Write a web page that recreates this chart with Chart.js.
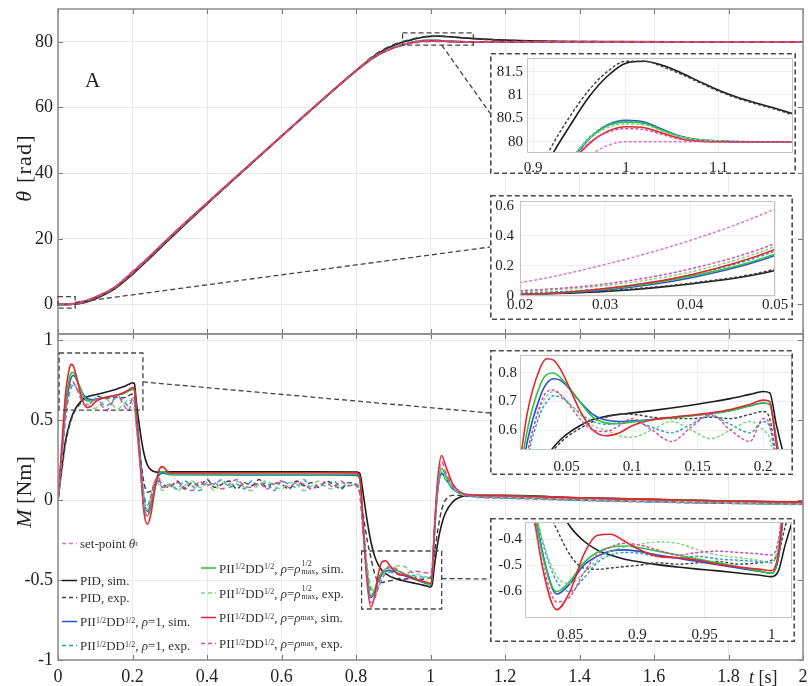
<!DOCTYPE html>
<html>
<head>
<meta charset="utf-8">
<script src="https://cdn.jsdelivr.net/npm/chart.js@4.4.1/dist/chart.umd.min.js"></script>
<style>
  body { margin: 0; background: #fff; }
  #wrap { position: relative; width: 808px; height: 686px; overflow: hidden;
          font-family: 'Liberation Serif', 'Times New Roman', serif; color: #222; }
  canvas { position: absolute; }
  .lab { position: absolute; white-space: nowrap; line-height: 1; }
  .lg { position: absolute; white-space: nowrap; font-size: 13px; color: #333; line-height: 1;
        transform: translateY(-50%); display: flex; align-items: center; }
  .lg svg { margin-right: 3px; flex: none; }
  .lg sup { font-size: 8px; position: relative; top: -1px; }
  .lg sub { font-size: 8px; }
  .ss { display: inline-flex; flex-direction: column; font-size: 8px; line-height: 8px; margin-left: 1px; }
</style>
</head>
<body>
<div id="wrap">
  <canvas id="cTheta" width="808" height="686" style="left:0;top:0"></canvas>
  <canvas id="cTorque" width="808" height="686" style="left:0;top:0"></canvas>
  <canvas id="cZoomThetaEnd" width="306" height="121" style="left:490px;top:53px"></canvas>
  <canvas id="cZoomThetaStart" width="303" height="125" style="left:490px;top:195px"></canvas>
  <canvas id="cZoomTorqueStart" width="303" height="125" style="left:490px;top:350px"></canvas>
  <canvas id="cZoomTorqueEnd" width="305" height="124" style="left:490px;top:518px"></canvas>

  <div class="lab" style="left:24px;top:168px;font-size:22px;letter-spacing:1.2px;transform:translate(-50%,-50%) rotate(-90deg);"><i>θ</i> [rad]</div>
  <div class="lab" style="left:24px;top:492px;font-size:22px;transform:translate(-50%,-50%) rotate(-90deg);"><i>M</i> [Nm]</div>
  <div class="lab" style="left:85px;top:70px;font-size:21px;">A</div>
  <div class="lab" style="left:749px;top:677px;font-size:18px;transform:translateY(-50%);"><i>t</i> [s]</div>

  <div class="lg" style="left:62px;top:543px"><svg width="15" height="4"><line x1="0" y1="2" x2="15" y2="2" stroke="#e070d0" stroke-width="1.5" stroke-dasharray="4 3"/></svg>set-point <i>&nbsp;θ</i><sub>r</sub></div>
  <div class="lg" style="left:62px;top:580px"><svg width="15" height="4"><line x1="0" y1="2" x2="15" y2="2" stroke="#1c1c1c" stroke-width="1.6"/></svg>PID, sim.</div>
  <div class="lg" style="left:62px;top:597px"><svg width="15" height="4"><line x1="0" y1="2" x2="15" y2="2" stroke="#404040" stroke-width="1.5" stroke-dasharray="4 3"/></svg>PID, exp.</div>
  <div class="lg" style="left:62px;top:621px"><svg width="15" height="4"><line x1="0" y1="2" x2="15" y2="2" stroke="#2b4fd6" stroke-width="1.6"/></svg>PII<sup>1/2</sup>DD<sup>1/2</sup>, <i>&nbsp;ρ</i>=1, sim.</div>
  <div class="lg" style="left:62px;top:645px"><svg width="15" height="4"><line x1="0" y1="2" x2="15" y2="2" stroke="#2d9cc8" stroke-width="1.5" stroke-dasharray="4 3"/></svg>PII<sup>1/2</sup>DD<sup>1/2</sup>, <i>&nbsp;ρ</i>=1, exp.</div>
  <div class="lg" style="left:201px;top:568px"><svg width="15" height="4"><line x1="0" y1="2" x2="15" y2="2" stroke="#2fc43f" stroke-width="1.6"/></svg>PII<sup>1/2</sup>DD<sup>1/2</sup>, <i>&nbsp;ρ</i>=<i>ρ</i><span class="ss"><span>1/2</span><span>max</span></span>, sim.</div>
  <div class="lg" style="left:201px;top:593px"><svg width="15" height="4"><line x1="0" y1="2" x2="15" y2="2" stroke="#7ad67a" stroke-width="1.5" stroke-dasharray="4 3"/></svg>PII<sup>1/2</sup>DD<sup>1/2</sup>, <i>&nbsp;ρ</i>=<i>ρ</i><span class="ss"><span>1/2</span><span>max</span></span>, exp.</div>
  <div class="lg" style="left:201px;top:617px"><svg width="15" height="4"><line x1="0" y1="2" x2="15" y2="2" stroke="#e2262e" stroke-width="1.6"/></svg>PII<sup>1/2</sup>DD<sup>1/2</sup>, <i>&nbsp;ρ</i>=<i>ρ</i><sub>max</sub>, sim.</div>
  <div class="lg" style="left:201px;top:643px"><svg width="15" height="4"><line x1="0" y1="2" x2="15" y2="2" stroke="#d64aa6" stroke-width="1.5" stroke-dasharray="4 3"/></svg>PII<sup>1/2</sup>DD<sup>1/2</sup>, <i>&nbsp;ρ</i>=<i>ρ</i><sub>max</sub>, exp.</div>
</div>

<script>
// ---- time bases ----
const tTheta = [0, 0.02, 0.03, 0.04, 0.05, 0.075, 0.1, 0.15, 0.2, 0.25, 0.3, 0.4, 0.5, 0.6, 0.7, 0.8, 0.85, 0.9,
  0.92, 0.94, 0.96, 0.98, 1.0, 1.02, 1.04, 1.06, 1.08, 1.1, 1.12, 1.14, 1.16, 1.18, 1.3, 1.5, 1.75, 2.0];

// ---- angle theta [rad] ----
const thetaSetpoint = [0, 0.09, 0.21, 0.37, 0.58, 1.3, 2.3, 5.2, 10.2, 15.2, 20.6, 30.9, 41.1, 51.3, 61.4, 71.2, 75.5, 78.3,
  79.0, 79.45, 79.7, 79.92, 80, 80, 80, 80, 80, 80, 80, 80, 80, 80, 80, 80, 80, 80];
const thetaPidSim = [0, 0.01, 0.03, 0.08, 0.17, 0.7, 1.7, 4.6, 9.2, 14.5, 20.0, 30.6, 40.9, 51.2, 61.3, 71.2, 75.8, 78.9,
  79.7, 80.35, 80.95, 81.4, 81.68, 81.72, 81.63, 81.47, 81.28, 81.1, 80.95, 80.83, 80.72, 80.6, 80.2, 80.04, 80.0, 80.0];
const thetaPidExp = [0, 0.015, 0.035, 0.085, 0.18, 0.72, 1.75, 4.7, 9.3, 14.6, 20.1, 30.7, 41.0, 51.3, 61.4, 71.3, 76.0, 79.1,
  79.9, 80.55, 81.1, 81.5, 81.72, 81.72, 81.6, 81.44, 81.26, 81.08, 80.93, 80.81, 80.7, 80.58, 80.2, 80.04, 80.0, 80.0];
const thetaRho1Sim = [0, 0.01, 0.04, 0.12, 0.27, 0.95, 2.1, 5.0, 9.7, 14.9, 20.4, 30.8, 41.0, 51.2, 61.3, 71.1, 75.4, 78.2,
  78.9, 79.55, 80.05, 80.36, 80.46, 80.42, 80.26, 80.11, 80.04, 80.01, 80, 80, 80, 80, 80, 80, 80, 80];
const thetaRho1Exp = [0, 0.02, 0.05, 0.14, 0.3, 1.0, 2.15, 5.05, 9.75, 15.0, 20.5, 30.9, 41.1, 51.3, 61.4, 71.2, 75.5, 78.3,
  79.0, 79.6, 80.08, 80.36, 80.44, 80.4, 80.24, 80.1, 80.04, 80.02, 80.01, 80, 80, 80, 80, 80, 80, 80];
const thetaHalfSim = [0, 0.01, 0.045, 0.13, 0.28, 0.97, 2.12, 5.02, 9.72, 14.95, 20.45, 30.85, 41.05, 51.25, 61.35, 71.15, 75.45, 78.25,
  78.95, 79.58, 80.06, 80.34, 80.42, 80.39, 80.24, 80.1, 80.04, 80.02, 80, 80, 80, 80, 80, 80, 80, 80];
const thetaHalfExp = [0, 0.03, 0.07, 0.16, 0.33, 1.02, 2.2, 5.1, 9.8, 15.05, 20.55, 30.95, 41.15, 51.35, 61.45, 71.25, 75.5, 78.3,
  79.0, 79.6, 80.05, 80.3, 80.38, 80.36, 80.22, 80.1, 80.04, 80.02, 80.01, 80, 80, 80, 80, 80, 80, 80];
const thetaMaxSim = [0, 0.01, 0.05, 0.14, 0.31, 1.0, 2.15, 5.05, 9.75, 15.0, 20.5, 30.9, 41.1, 51.3, 61.4, 71.2, 75.4, 78.1,
  78.8, 79.5, 79.95, 80.22, 80.32, 80.3, 80.18, 80.06, 80.01, 80, 80, 80, 80, 80, 80, 80, 80, 80];
const thetaMaxExp = [0, 0.035, 0.08, 0.18, 0.35, 1.05, 2.22, 5.12, 9.82, 15.1, 20.6, 31.0, 41.2, 51.4, 61.5, 71.3, 75.5, 78.2,
  78.85, 79.52, 79.97, 80.2, 80.28, 80.26, 80.15, 80.05, 80.01, 80, 80, 80, 80, 80, 80, 80, 80, 80];

// ---- torque M [Nm] ----
const tSimM = [0, 0.01, 0.02, 0.03, 0.035, 0.04, 0.045, 0.05, 0.06, 0.07,
  0.08, 0.09, 0.1, 0.115, 0.13, 0.145, 0.16, 0.175, 0.19, 0.2,
  0.205, 0.21, 0.22, 0.23, 0.24, 0.25, 0.26, 0.27, 0.28, 0.3,
  0.5, 0.8, 0.81, 0.82, 0.83, 0.84, 0.85, 0.86, 0.87, 0.88,
  0.89, 0.9, 0.915, 0.93, 0.945, 0.96, 0.975, 0.99, 1.0, 1.005,
  1.01, 1.02, 1.03, 1.04, 1.06, 1.08, 1.1, 1.2, 1.4, 1.6,
  1.8, 2.0];
const mPidSim = [0, 0.2, 0.37, 0.47, 0.51, 0.54, 0.565, 0.585, 0.615, 0.637,
  0.648, 0.655, 0.66, 0.668, 0.677, 0.687, 0.698, 0.71, 0.725, 0.735,
  0.73, 0.62, 0.44, 0.3, 0.22, 0.19, 0.178, 0.175, 0.176, 0.177,
  0.178, 0.176, 0.17, 0.03, -0.13, -0.26, -0.35, -0.405, -0.44, -0.46,
  -0.475, -0.485, -0.497, -0.506, -0.514, -0.521, -0.529, -0.537, -0.543, -0.52,
  -0.42, -0.26, -0.15, -0.08, -0.01, 0.02, 0.03, 0.03, 0.015, 0.005,
  -0.005, -0.012];
const mRho1Sim = [0, 0.28, 0.56, 0.72, 0.765, 0.78, 0.775, 0.755, 0.7, 0.655,
  0.635, 0.63, 0.632, 0.637, 0.643, 0.65, 0.658, 0.668, 0.685, 0.695,
  0.69, 0.57, 0.3, 0.02, -0.07, -0.02, 0.08, 0.15, 0.17, 0.16,
  0.158, 0.157, 0.135, -0.17, -0.46, -0.61, -0.57, -0.5, -0.465, -0.445,
  -0.44, -0.445, -0.46, -0.472, -0.485, -0.497, -0.51, -0.522, -0.53, -0.47,
  -0.24, 0.07, 0.17, 0.14, 0.07, 0.042, 0.032, 0.026, 0.013, 0.003,
  -0.007, -0.014];
const mHalfSim = [0, 0.3, 0.6, 0.76, 0.795, 0.8, 0.785, 0.76, 0.7, 0.645,
  0.625, 0.622, 0.628, 0.636, 0.643, 0.65, 0.658, 0.668, 0.685, 0.695,
  0.69, 0.56, 0.28, -0.02, -0.1, -0.04, 0.08, 0.16, 0.18, 0.163,
  0.163, 0.162, 0.14, -0.18, -0.47, -0.6, -0.56, -0.49, -0.45, -0.43,
  -0.425, -0.43, -0.445, -0.46, -0.475, -0.49, -0.505, -0.52, -0.53, -0.46,
  -0.22, 0.1, 0.2, 0.16, 0.08, 0.045, 0.033, 0.027, 0.014, 0.004,
  -0.006, -0.013];
const mMaxSim = [0, 0.33, 0.66, 0.82, 0.85, 0.845, 0.815, 0.77, 0.67, 0.6,
  0.58, 0.59, 0.615, 0.635, 0.645, 0.652, 0.66, 0.672, 0.69, 0.705,
  0.7, 0.55, 0.25, -0.06, -0.15, -0.08, 0.07, 0.18, 0.21, 0.17,
  0.172, 0.171, 0.15, -0.2, -0.52, -0.67, -0.6, -0.46, -0.385, -0.38,
  -0.405, -0.435, -0.465, -0.47, -0.48, -0.495, -0.506, -0.514, -0.52, -0.45,
  -0.2, 0.15, 0.28, 0.22, 0.1, 0.05, 0.035, 0.028, 0.015, 0.005,
  -0.005, -0.012];

const tExpM = [0, 0.01, 0.02, 0.03, 0.035, 0.04, 0.045, 0.05, 0.06, 0.07, 0.08, 0.09, 0.1, 0.115, 0.13,
  0.145, 0.16, 0.175, 0.19, 0.2, 0.205, 0.21, 0.22, 0.23, 0.24, 0.25, 0.26, 0.27, 0.28,
  0.3, 0.32, 0.34, 0.36, 0.38, 0.4, 0.42, 0.44, 0.46, 0.48, 0.5, 0.52, 0.54, 0.56, 0.58, 0.6,
  0.62, 0.64, 0.66, 0.68, 0.7, 0.72, 0.74, 0.76, 0.78, 0.8,
  0.81, 0.82, 0.83, 0.84, 0.85, 0.86, 0.87, 0.88, 0.89, 0.9, 0.915, 0.93, 0.945, 0.96, 0.975, 0.99,
  1.0, 1.005, 1.01, 1.02, 1.03, 1.04,
  1.06, 1.08, 1.1, 1.2, 1.3, 1.4, 1.5, 1.6, 1.7, 1.8, 1.9, 2.0];
const mPidExp = [0, 0.18, 0.35, 0.46, 0.5, 0.53, 0.555, 0.575, 0.605, 0.63, 0.645, 0.655, 0.655, 0.645, 0.64,
  0.64, 0.645, 0.64, 0.655, 0.665, 0.64, 0.5, 0.3, 0.12, 0.05, 0.06, 0.1, 0.12, 0.1,
  0.08, 0.12, 0.07, 0.11, 0.09, 0.13, 0.08, 0.1, 0.12, 0.07, 0.11, 0.09, 0.13, 0.08, 0.11, 0.1,
  0.07, 0.12, 0.09, 0.11, 0.08, 0.12, 0.1, 0.07, 0.11, 0.1,
  0.05, -0.1, -0.25, -0.36, -0.46, -0.51, -0.515, -0.51, -0.505, -0.5, -0.49, -0.495, -0.49, -0.485, -0.495, -0.49,
  -0.48, -0.45, -0.35, -0.18, -0.06, 0.0,
  0.03, 0.03, 0.025, 0.015, 0.01, 0.0, -0.005, -0.01, -0.015, -0.02, -0.022, -0.025];
const mRho1Exp = [0, 0.25, 0.5, 0.66, 0.7, 0.72, 0.715, 0.7, 0.66, 0.63, 0.62, 0.625, 0.63, 0.61, 0.59,
  0.62, 0.65, 0.62, 0.59, 0.63, 0.61, 0.48, 0.25, 0.05, -0.03, 0.03, 0.1, 0.12, 0.08,
  0.1, 0.07, 0.12, 0.09, 0.06, 0.11, 0.1, 0.13, 0.08, 0.1, 0.07, 0.12, 0.09, 0.11, 0.06, 0.12,
  0.1, 0.08, 0.13, 0.07, 0.1, 0.09, 0.12, 0.08, 0.11, 0.09,
  0.04, -0.2, -0.42, -0.56, -0.6, -0.55, -0.49, -0.46, -0.45, -0.452, -0.465, -0.47, -0.465, -0.475, -0.48, -0.485,
  -0.49, -0.42, -0.2, 0.08, 0.16, 0.13,
  0.07, 0.04, 0.025, 0.012, 0.005, -0.002, -0.008, -0.012, -0.018, -0.02, -0.025, -0.028];
const mHalfExp = [0, 0.26, 0.52, 0.68, 0.72, 0.735, 0.725, 0.705, 0.655, 0.615, 0.6, 0.58, 0.575, 0.6, 0.63,
  0.6, 0.57, 0.6, 0.63, 0.6, 0.57, 0.45, 0.22, 0.0, -0.06, 0.04, 0.12, 0.1, 0.06,
  0.1, 0.06, 0.09, 0.12, 0.08, 0.1, 0.06, 0.11, 0.09, 0.12, 0.08, 0.06, 0.1, 0.12, 0.09, 0.07,
  0.11, 0.1, 0.06, 0.09, 0.12, 0.08, 0.07, 0.11, 0.09, 0.1,
  0.05, -0.19, -0.41, -0.54, -0.57, -0.53, -0.48, -0.445, -0.43, -0.42, -0.41, -0.415, -0.44, -0.46, -0.47, -0.48,
  -0.49, -0.42, -0.2, 0.1, 0.18, 0.14,
  0.08, 0.04, 0.03, 0.018, 0.01, 0.002, -0.004, -0.01, -0.014, -0.018, -0.022, -0.026];
const mMaxExp = [0, 0.26, 0.52, 0.69, 0.735, 0.74, 0.725, 0.7, 0.64, 0.6, 0.595, 0.615, 0.64, 0.6, 0.56,
  0.61, 0.655, 0.6, 0.56, 0.64, 0.62, 0.5, 0.24, -0.04, -0.1, 0.02, 0.12, 0.14, 0.08,
  0.09, 0.11, 0.08, 0.06, 0.12, 0.09, 0.11, 0.07, 0.1, 0.13, 0.09, 0.08, 0.11, 0.07, 0.1, 0.12,
  0.08, 0.11, 0.1, 0.07, 0.09, 0.11, 0.08, 0.12, 0.09, 0.1,
  0.04, -0.24, -0.5, -0.64, -0.62, -0.53, -0.46, -0.43, -0.415, -0.42, -0.44, -0.46, -0.45, -0.445, -0.45, -0.455,
  -0.46, -0.4, -0.18, 0.12, 0.24, 0.18,
  0.09, 0.05, 0.03, 0.02, 0.012, 0.004, -0.002, -0.008, -0.012, -0.016, -0.02, -0.024];

// ---- tick values ----
const tTicks = [0, 0.2, 0.4, 0.6, 0.8, 1, 1.2, 1.4, 1.6, 1.8, 2];
const thetaTicks = [0, 20, 40, 60, 80];
const mTicks = [-1, -0.5, 0, 0.5, 1];
const thetaEndTicksT = [0.9, 1, 1.1];
const thetaEndTicksV = [80, 80.5, 81, 81.5];
const thetaStartTicksT = [0.02, 0.03, 0.04, 0.05];
const thetaStartTicksV = [0, 0.2, 0.4, 0.6];
const mStartTicksT = [0.05, 0.1, 0.15, 0.2];
const mStartTicksV = [0.6, 0.7, 0.8];
const mEndTicksT = [0.85, 0.9, 0.95, 1];
const mEndTicksV = [-0.6, -0.5, -0.4];

// ---- styles ----
const SERIF = "'Liberation Serif','Times New Roman',serif";
const COL = {
  setpoint: '#e070d0', pidSim: '#1c1c1c', pidExp: '#404040',
  rho1Sim: '#2b4fd6', rho1Exp: '#2d9cc8', halfSim: '#2fc43f', halfExp: '#7ad67a',
  maxSim: '#e2262e', maxExp: '#d64aa6'
};

const thetaSeries = [
  { t: tTheta, v: thetaSetpoint, c: COL.setpoint, exp: true },
  { t: tTheta, v: thetaPidSim, c: COL.pidSim },
  { t: tTheta, v: thetaPidExp, c: COL.pidExp, exp: true },
  { t: tTheta, v: thetaRho1Sim, c: COL.rho1Sim },
  { t: tTheta, v: thetaRho1Exp, c: COL.rho1Exp, exp: true },
  { t: tTheta, v: thetaHalfSim, c: COL.halfSim },
  { t: tTheta, v: thetaHalfExp, c: COL.halfExp, exp: true },
  { t: tTheta, v: thetaMaxSim, c: COL.maxSim },
  { t: tTheta, v: thetaMaxExp, c: COL.maxExp, exp: true }
];
const mSeries = [
  { t: tSimM, v: mPidSim, c: COL.pidSim },
  { t: tExpM, v: mPidExp, c: COL.pidExp, exp: true },
  { t: tSimM, v: mRho1Sim, c: COL.rho1Sim },
  { t: tExpM, v: mRho1Exp, c: COL.rho1Exp, exp: true },
  { t: tSimM, v: mHalfSim, c: COL.halfSim },
  { t: tExpM, v: mHalfExp, c: COL.halfExp, exp: true },
  { t: tSimM, v: mMaxSim, c: COL.maxSim },
  { t: tExpM, v: mMaxExp, c: COL.maxExp, exp: true }
];

function toPoints(t, v) {
  if (t.length !== v.length) throw new Error('length mismatch ' + t.length + ' vs ' + v.length);
  return t.map((x, i) => ({ x, y: v[i] }));
}

function datasets(series, lw, dash) {
  return series.map((s, i) => ({
    data: toPoints(s.t, s.v),
    borderColor: s.c,
    borderWidth: s.exp ? lw * 0.9 : lw,
    borderDash: s.exp ? dash : [],
    pointRadius: 0,
    cubicInterpolationMode: 'monotone',
    fill: false,
    order: -i
  }));
}

function fmt(v) { return String(Math.round(v * 1000) / 1000); }

function axis(min, max, ticks, o) {
  return {
    type: 'linear', min, max,
    afterBuildTicks: s => { s.ticks = ticks.map(v => ({ value: v })); },
    afterFit: s => {
      if (o.horizontal) s.height = o.fit; else s.width = o.fit;
      // keep the plot frame fixed; edge labels may overhang
      s.paddingLeft = s.paddingRight = s.paddingTop = s.paddingBottom = 0;
    },
    grid: { color: o.grid, drawTicks: false, lineWidth: 1 },
    border: { display: false },
    ticks: {
      display: o.show !== false, padding: o.pad,
      font: { family: SERIF, size: o.size }, color: '#222',
      autoSkip: false, maxRotation: 0, minRotation: 0,
      callback: v => fmt(v)
    }
  };
}

function mainDecor(xTicks, yTicks, boxes) {
  return {
    id: 'mainDecor',
    afterDatasetsDraw(chart) {
      const { ctx, chartArea: a, scales: { x, y } } = chart;
      ctx.save();
      ctx.strokeStyle = '#7a7a7a'; ctx.lineWidth = 1;
      ctx.beginPath();
      xTicks.forEach(v => {
        const px = Math.round(x.getPixelForValue(v)) + 0.5;
        ctx.moveTo(px, a.bottom); ctx.lineTo(px, a.bottom - 5);
        ctx.moveTo(px, a.top); ctx.lineTo(px, a.top + 5);
      });
      yTicks.forEach(v => {
        const py = Math.round(y.getPixelForValue(v)) + 0.5;
        ctx.moveTo(a.left, py); ctx.lineTo(a.left + 5, py);
        ctx.moveTo(a.right, py); ctx.lineTo(a.right - 5, py);
      });
      ctx.stroke();
      ctx.strokeStyle = '#8a8a8a'; ctx.lineWidth = 1.5;
      ctx.strokeRect(a.left, a.top, a.width, a.height);
      ctx.strokeStyle = '#454545'; ctx.lineWidth = 1.3; ctx.setLineDash([5, 3]);
      boxes.forEach(b => {
        const x0 = x.getPixelForValue(b.t[0]), x1 = x.getPixelForValue(b.t[1]);
        const y0 = y.getPixelForValue(b.v[1]), y1 = y.getPixelForValue(b.v[0]);
        ctx.strokeRect(x0, y0, x1 - x0, y1 - y0);
        ctx.beginPath();
        ctx.moveTo(x.getPixelForValue(b.from[0]), y.getPixelForValue(b.from[1]));
        ctx.lineTo(b.to[0], b.to[1]);
        ctx.stroke();
      });
      ctx.restore();
    }
  };
}

const insetDecor = {
  id: 'insetDecor',
  beforeDraw(chart) {
    const { ctx, width, height } = chart;
    ctx.save(); ctx.fillStyle = '#fff'; ctx.fillRect(0, 0, width, height); ctx.restore();
  },
  afterDatasetsDraw(chart) {
    const { ctx, chartArea: a } = chart;
    ctx.save(); ctx.strokeStyle = '#c4c4c4'; ctx.lineWidth = 1;
    ctx.strokeRect(a.left + 0.5, a.top + 0.5, a.width - 1, a.height - 1);
    ctx.restore();
  },
  afterDraw(chart) {
    const { ctx, width, height } = chart;
    ctx.save(); ctx.strokeStyle = '#4a4a4a'; ctx.lineWidth = 1.6; ctx.setLineDash([5, 3]);
    ctx.strokeRect(0.8, 0.8, width - 1.6, height - 1.6);
    ctx.restore();
  }
};

function makeChart(id, sets, padding, xs, ys, plugins) {
  return new Chart(document.getElementById(id), {
    type: 'line',
    data: { datasets: sets },
    options: {
      responsive: false, animation: false, events: [],
      layout: { padding },
      plugins: { legend: { display: false }, tooltip: { enabled: false } },
      scales: { x: xs, y: ys }
    },
    plugins
  });
}

// ---- main panels ----
makeChart('cTheta', datasets(thetaSeries, 1.7, [6, 4]),
  { top: 9, right: 5, bottom: 352, left: 0 },
  axis(0, 2, tTicks, { horizontal: true, fit: 0, show: false, grid: '#e8e8e8', size: 18, pad: 0 }),
  axis(-9, 90, thetaTicks, { fit: 58, grid: '#e8e8e8', size: 18, pad: 5 }),
  [mainDecor(tTicks, thetaTicks, [
    { t: [0.925, 1.115], v: [79, 82.7], from: [1.03, 79], to: [490, 113] },
    { t: [0, 0.046], v: [-1.1, 2.4], from: [0.046, 0.6], to: [490, 247] }
  ])]);

makeChart('cTorque', datasets(mSeries, 1.6, [5, 3]),
  { top: 334, right: 5, bottom: 0, left: 0 },
  axis(0, 2, tTicks, { horizontal: true, fit: 26, grid: '#e8e8e8', size: 18, pad: 6 }),
  axis(-1, 1.04, mTicks, { fit: 58, grid: '#e8e8e8', size: 18, pad: 5 }),
  [mainDecor(tTicks, mTicks, [
    { t: [0.003, 0.228], v: [0.564, 0.921], from: [0.228, 0.74], to: [490, 413] },
    { t: [0.815, 1.03], v: [-0.681, -0.318], from: [1.03, -0.49], to: [490, 579] }
  ])]);

// ---- zoomed views ----
makeChart('cZoomThetaEnd', datasets(thetaSeries, 1.6, [3, 2]),
  { top: 5, right: 3, bottom: 0, left: 0 },
  axis(0.8935, 1.18, thetaEndTicksT, { horizontal: true, fit: 21, grid: '#efefef', size: 15, pad: 6 }),
  axis(79.76, 81.79, thetaEndTicksV, { fit: 37, grid: '#efefef', size: 15, pad: 4 }),
  [insetDecor]);

makeChart('cZoomThetaStart', datasets(thetaSeries, 1.6, [3, 2]),
  { top: 6, right: 18, bottom: 0, left: 0 },
  axis(0.02, 0.05, thetaStartTicksT, { horizontal: true, fit: 24, grid: '#efefef', size: 15, pad: 0 }),
  axis(0, 0.633, thetaStartTicksV, { fit: 30, grid: '#efefef', size: 15, pad: 6 }),
  [insetDecor]);

makeChart('cZoomTorqueStart', datasets(mSeries, 1.6, [3, 2]),
  { top: 5, right: 1, bottom: 0, left: 0 },
  axis(0.0144, 0.222, mStartTicksT, { horizontal: true, fit: 25, grid: '#efefef', size: 15, pad: 8 }),
  axis(0.53, 0.863, mStartTicksV, { fit: 30, grid: '#efefef', size: 15, pad: 3 }),
  [insetDecor]);

makeChart('cZoomTorqueEnd', datasets(mSeries, 1.6, [3, 2]),
  { top: 4, right: 3, bottom: 0, left: 0 },
  axis(0.8165, 1.015, mEndTicksT, { horizontal: true, fit: 24, grid: '#efefef', size: 15, pad: 8 }),
  axis(-0.702, -0.333, mEndTicksV, { fit: 35, grid: '#efefef', size: 15, pad: 3 }),
  [insetDecor]);
</script>
</body>
</html>
